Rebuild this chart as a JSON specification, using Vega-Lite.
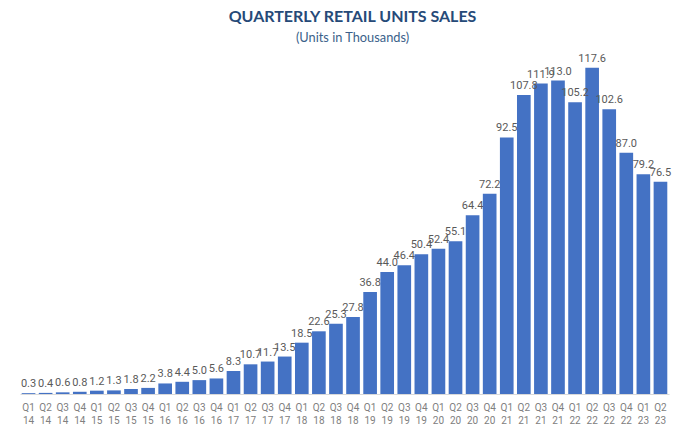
{
  "$schema": "https://vega.github.io/schema/vega-lite/v6.json",
  "width": 649,
  "height": 344,
  "autosize": {"type": "none"},
  "padding": {"left": 20, "top": 50, "right": 26, "bottom": 45},
  "background": "white",
  "title": {
    "text": "QUARTERLY RETAIL UNITS SALES",
    "subtitle": "(Units in Thousands)",
    "anchor": "middle",
    "dx": 8,
    "font": "Lato",
    "fontSize": 16,
    "fontWeight": "bold",
    "color": "#264a78",
    "subtitleFont": "Lato",
    "subtitleFontSize": 12.8,
    "subtitleFontWeight": "normal",
    "subtitleColor": "#3b5f8a",
    "subtitlePadding": 7,
    "offset": 5
  },
  "data": {
    "values": [
      {"q": "Q1 14", "v": 0.3}, {"q": "Q2 14", "v": 0.4}, {"q": "Q3 14", "v": 0.6}, {"q": "Q4 14", "v": 0.8},
      {"q": "Q1 15", "v": 1.2}, {"q": "Q2 15", "v": 1.3}, {"q": "Q3 15", "v": 1.8}, {"q": "Q4 15", "v": 2.2},
      {"q": "Q1 16", "v": 3.8}, {"q": "Q2 16", "v": 4.4}, {"q": "Q3 16", "v": 5.0}, {"q": "Q4 16", "v": 5.6},
      {"q": "Q1 17", "v": 8.3}, {"q": "Q2 17", "v": 10.7}, {"q": "Q3 17", "v": 11.7}, {"q": "Q4 17", "v": 13.5},
      {"q": "Q1 18", "v": 18.5}, {"q": "Q2 18", "v": 22.6}, {"q": "Q3 18", "v": 25.3}, {"q": "Q4 18", "v": 27.8},
      {"q": "Q1 19", "v": 36.8}, {"q": "Q2 19", "v": 44.0}, {"q": "Q3 19", "v": 46.4}, {"q": "Q4 19", "v": 50.4},
      {"q": "Q1 20", "v": 52.4}, {"q": "Q2 20", "v": 55.1}, {"q": "Q3 20", "v": 64.4}, {"q": "Q4 20", "v": 72.2},
      {"q": "Q1 21", "v": 92.5}, {"q": "Q2 21", "v": 107.8}, {"q": "Q3 21", "v": 111.9}, {"q": "Q4 21", "v": 113.0},
      {"q": "Q1 22", "v": 105.2}, {"q": "Q2 22", "v": 117.6}, {"q": "Q3 22", "v": 102.6}, {"q": "Q4 22", "v": 87.0},
      {"q": "Q1 23", "v": 79.2}, {"q": "Q2 23", "v": 76.5}
    ]
  },
  "encoding": {
    "x": {
      "field": "q", "type": "ordinal", "sort": null,
      "scale": {"paddingInner": 0.2, "paddingOuter": 0.1},
      "axis": {
        "title": null, "labelAngle": 0, "ticks": false,
        "domainColor": "#d9d9d9", "domainWidth": 1,
        "labelExpr": "split(datum.label, ' ')",
        "labelFont": "Roboto", "labelFontSize": 10, "labelColor": "#808080",
        "labelPadding": 8, "labelLineHeight": 13
      }
    },
    "y": {
      "field": "v", "type": "quantitative",
      "scale": {"domain": [0, 124]},
      "axis": null
    }
  },
  "layer": [
    {"mark": {"type": "bar", "color": "#4472c4"}},
    {
      "mark": {"type": "text", "dy": -9, "font": "Roboto", "fontSize": 11, "color": "#595959"},
      "encoding": {"text": {"field": "v", "type": "quantitative", "format": ".1f"}}
    }
  ],
  "config": {"view": {"stroke": null}}
}
